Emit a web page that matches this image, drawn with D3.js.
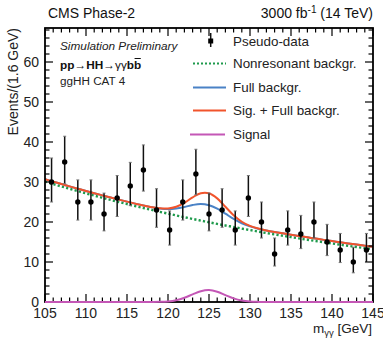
<!DOCTYPE html>
<html><head><meta charset="utf-8">
<script src="https://cdn.jsdelivr.net/npm/d3@7"></script>
<style>body{margin:0;background:#fff} svg{display:block} text{font-family:"Liberation Sans",Arial,Helvetica,sans-serif}</style>
</head><body><svg id="c" width="383" height="340"></svg>
<script>
// ---- data ----
const binCenters = [105.8,107.4,109.0,110.6,112.2,113.8,115.4,117.0,118.6,120.2,121.8,123.4,125.0,126.6,128.2,129.8,131.4,133.0,134.6,136.2,137.8,139.4,141.0,142.6,144.2];
const counts     = [30,35,25,25,22,26,29,33,23,18,25,32,22,23,18,26,20,12,18,17,20,15,13,10,13];
const errLow     = [25.00,29.56,20.48,20.48,17.78,21.38,24.09,27.73,18.68,14.23,20.48,26.82,17.78,18.68,14.23,21.38,16.00,9.00,14.23,13.35,16.00,11.60,9.86,7.30,9.86];
const errHigh    = [36.00,41.44,30.53,30.53,27.22,31.62,34.91,39.27,28.32,22.77,30.53,38.18,27.22,28.32,22.77,31.62,25.00,16.00,22.77,21.65,25.00,19.41,17.14,13.70,17.14];
const massGrid   = [105,106,107,108,109,110,111,112,113,114,115,116,117,118,119,120,121,122,123,124,125,126,127,128,129,130,131,132,133,134,135,136,137,138,139,140,141,142,143,144,145];
const nonresBkg  = [30.10,29.49,28.88,28.30,27.72,27.15,26.60,26.06,25.52,25.00,24.49,23.99,23.50,23.02,22.55,22.09,21.64,21.20,20.77,20.35,19.93,19.52,19.13,18.74,18.35,17.98,17.61,17.25,16.90,16.56,16.22,15.89,15.56,15.25,14.93,14.63,14.33,14.04,13.75,13.47,13.20];
const fullBkg    = [30.70,30.09,29.48,28.90,28.32,27.75,27.20,26.66,26.12,25.60,25.09,24.59,24.12,23.70,23.37,23.23,23.37,23.76,24.25,24.50,24.19,23.32,22.07,20.78,19.69,18.90,18.33,17.89,17.51,17.16,16.82,16.49,16.16,15.85,15.53,15.23,14.93,14.64,14.35,14.07,13.80];
const sigPlusBkg = [30.70,30.09,29.48,28.90,28.32,27.75,27.20,26.66,26.12,25.60,25.09,24.59,24.12,23.71,23.41,23.38,23.82,24.81,26.16,27.21,27.19,25.90,23.80,21.68,20.06,19.02,18.36,17.90,17.51,17.16,16.82,16.49,16.16,15.85,15.53,15.23,14.93,14.64,14.35,14.07,13.80];
const signal     = [0,0,0,0,0,0,0,0,0,0,0,0,0.001,0.008,0.039,0.149,0.448,1.05,1.91,2.71,3.00,2.58,1.73,0.90,0.37,0.116,0.029,0.005,0,0,0,0,0,0,0,0,0,0,0,0,0];
const xTicks = [105,110,115,120,125,130,135,140,145];
const yTicks = [0,10,20,30,40,50,60];
const legendLabels = ["Pseudo-data","Nonresonant backgr.","Full backgr.","Sig. + Full backgr.","Signal"];

// ---- layout ----
const L=45, R=373, T=28, B=302;
const svg = d3.select("#c");
const x = d3.scaleLinear().domain([105,145]).range([L,R]);
const y = d3.scaleLinear().domain([0,68.5]).range([B,T]);
const COL = {green:"#1e9a4c", blue:"#4a82c6", red:"#f1542c", mag:"#c457b6"};

svg.append("defs").append("clipPath").attr("id","pc").append("rect")
  .attr("x",L).attr("y",T-2).attr("width",R-L).attr("height",B-T+4);

// curves
const mkLine = arr => d3.line().x((d,i)=>x(massGrid[i])).y(d=>y(d)).curve(d3.curveCatmullRom)(arr);
const g = svg.append("g").attr("clip-path","url(#pc)");
g.append("path").attr("d",mkLine(nonresBkg)).attr("fill","none").attr("stroke",COL.green).attr("stroke-width",2.4).attr("stroke-dasharray","2.2,2.2");
g.append("path").attr("d",mkLine(fullBkg)).attr("fill","none").attr("stroke",COL.blue).attr("stroke-width",2);
g.append("path").attr("d",mkLine(sigPlusBkg)).attr("fill","none").attr("stroke",COL.red).attr("stroke-width",2);

// frame
svg.append("rect").attr("x",L).attr("y",T).attr("width",R-L).attr("height",B-T)
  .attr("fill","none").attr("stroke","#000").attr("stroke-width",1.8);

// ticks
const tk = svg.append("g").attr("stroke","#000").attr("stroke-width",1.2);
const xMinor = d3.range(105,146,1), yMinor = d3.range(0,69,2);
xMinor.forEach(v=>{
  const len = (v%5===0)?8:4.5;
  tk.append("line").attr("x1",x(v)).attr("x2",x(v)).attr("y1",B).attr("y2",B-len);
  tk.append("line").attr("x1",x(v)).attr("x2",x(v)).attr("y1",T).attr("y2",T+len);
});
yMinor.forEach(v=>{
  const len = (v%10===0)?8:4.5;
  tk.append("line").attr("y1",y(v)).attr("y2",y(v)).attr("x1",L).attr("x2",L+len);
  tk.append("line").attr("y1",y(v)).attr("y2",y(v)).attr("x1",R).attr("x2",R-len);
});

// tick labels
svg.append("g").selectAll("text").data(xTicks).join("text")
  .attr("x",d=>x(d)).attr("y",318).attr("text-anchor","middle").attr("font-size",14).attr("fill","#222").text(d=>d);
svg.append("g").selectAll("text").data(yTicks).join("text")
  .attr("x",39).attr("y",d=>y(d)+5).attr("text-anchor","end").attr("font-size",14).attr("fill","#222").text(d=>d);

// signal curve (on top of axis)
svg.append("path").attr("d",mkLine(signal)).attr("fill","none").attr("stroke",COL.mag).attr("stroke-width",2);

// data points
const dp = svg.append("g");
binCenters.forEach((c,i)=>{
  dp.append("line").attr("x1",x(c)).attr("x2",x(c)).attr("y1",y(errLow[i])).attr("y2",y(errHigh[i])).attr("stroke","#111").attr("stroke-width",1.5);
  [errLow[i],errHigh[i]].forEach(v=>dp.append("line").attr("x1",x(c)-1.5).attr("x2",x(c)+1.5).attr("y1",y(v)).attr("y2",y(v)).attr("stroke","#777").attr("stroke-width",1));
  dp.append("circle").attr("cx",x(c)).attr("cy",y(counts[i])).attr("r",2.7).attr("fill","#000");
});

// axis titles
svg.append("text").attr("transform","translate(18,28) rotate(-90)").attr("text-anchor","end").attr("font-size",14).attr("fill","#222").text("Events/(1.6 GeV)");
const xt = svg.append("text").attr("x",372).attr("y",333).attr("text-anchor","end").attr("font-size",13.5).attr("fill","#222");
xt.append("tspan").text("m");
xt.append("tspan").attr("font-size",9.5).attr("dy",3).text("γγ");
xt.append("tspan").attr("dy",-3).text(" [GeV]");

// header
svg.append("text").attr("x",48).attr("y",18).attr("font-size",14).attr("fill","#111").text("CMS Phase-2");
const hr = svg.append("text").attr("x",373).attr("y",18).attr("text-anchor","end").attr("font-size",14).attr("fill","#111");
hr.append("tspan").text("3000 fb");
hr.append("tspan").attr("font-size",10).attr("dy",-5).text("-1");
hr.append("tspan").attr("dy",5).text(" (14 TeV)");

// left labels
svg.append("text").attr("x",60).attr("y",50).attr("font-size",11.8).attr("font-style","italic").attr("fill","#222").text("Simulation Preliminary");
const pp = svg.append("text").attr("x",60).attr("y",69).attr("font-size",11.8).attr("font-weight","bold").attr("fill","#111");
pp.append("tspan").text("pp");
pp.append("tspan").attr("font-weight","normal").text("→");
pp.append("tspan").text("HH");
pp.append("tspan").attr("font-weight","normal").text("→γγ");
pp.append("tspan").text("bb");
// overline on the last b
const ppNode = pp.node();
const nChars = ppNode.getNumberOfChars();
const ext = ppNode.getExtentOfChar(nChars-1);
svg.append("line").attr("x1",ext.x+0.5).attr("x2",ext.x+ext.width-0.5)
  .attr("y1",69-10.5).attr("y2",69-10.5).attr("stroke","#111").attr("stroke-width",1);
svg.append("text").attr("x",60).attr("y",85).attr("font-size",11.7).attr("fill","#222").text("ggHH CAT 4");

// legend
const legY = [45.5, 68, 92, 115, 139];
const lg = svg.append("g");
legendLabels.forEach((t,i)=>{
  lg.append("text").attr("x",233).attr("y",legY[i]).attr("font-size",13.4).attr("fill","#222").text(t);
});
const ly = legY.map(v=>v-4.5);
lg.append("line").attr("x1",210.7).attr("x2",210.7).attr("y1",ly[0]-8).attr("y2",ly[0]+6).attr("stroke","#111").attr("stroke-width",1.5);
lg.append("rect").attr("x",208.2).attr("y",ly[0]-2.5).attr("width",5).attr("height",5).attr("fill","#000");
lg.append("line").attr("x1",193).attr("x2",226).attr("y1",ly[1]).attr("y2",ly[1]).attr("stroke",COL.green).attr("stroke-width",2).attr("stroke-dasharray","2,2");
lg.append("line").attr("x1",193).attr("x2",226).attr("y1",ly[2]).attr("y2",ly[2]).attr("stroke",COL.blue).attr("stroke-width",2);
lg.append("line").attr("x1",193).attr("x2",226).attr("y1",ly[3]).attr("y2",ly[3]).attr("stroke",COL.red).attr("stroke-width",2);
lg.append("line").attr("x1",190).attr("x2",225).attr("y1",ly[4]).attr("y2",ly[4]).attr("stroke",COL.mag).attr("stroke-width",2);
</script></body></html>
